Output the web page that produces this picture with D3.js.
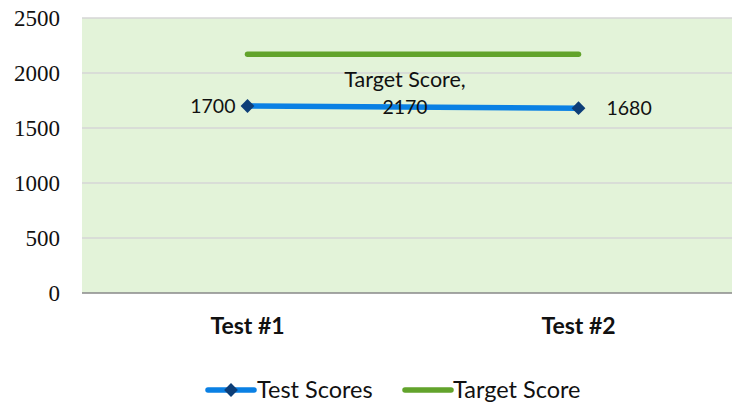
<!DOCTYPE html>
<html>
<head>
<meta charset="utf-8">
<script src="https://cdn.jsdelivr.net/npm/d3@7"></script>
<style>
  html, body { margin: 0; padding: 0; background: #fff; overflow: hidden; }
  svg { display: block; }
</style>
</head>
<body>
<svg id="chart" width="760" height="405"></svg>
<script>
const categories = ["Test #1", "Test #2"];
const testScores = [1700, 1680];
const targetScore = [2170, 2170];
const yTicks = [0, 500, 1000, 1500, 2000, 2500];
const seriesNames = ["Test Scores", "Target Score"];

const svg = d3.select("#chart");
const sans = "Lato, 'Open Sans', sans-serif";
const serif = "'Liberation Serif', serif";

const plot = { left: 82, right: 760, top: 18, bottom: 293 };
const scaleRight = 744;

const x = d3.scaleBand().domain(categories).range([plot.left, scaleRight]).padding(0);
const cx = d => x(d) + x.bandwidth() / 2;
const y = d3.scaleLinear().domain([0, 2500]).range([plot.bottom, plot.top]);

// plot background
svg.append("rect")
  .attr("x", plot.left).attr("y", plot.top)
  .attr("width", plot.right - plot.left).attr("height", plot.bottom - plot.top)
  .attr("fill", "#E3F3D9");

// gridlines
svg.append("g").selectAll("line").data(yTicks.filter(t => t > 0)).join("line")
  .attr("x1", plot.left).attr("x2", plot.right)
  .attr("y1", d => y(d)).attr("y2", d => y(d))
  .attr("stroke", "#D6D6D6").attr("stroke-width", 1.5);

// y axis
const yAxis = d3.axisLeft(y).tickValues(yTicks).tickFormat(d3.format("d")).tickSize(0).tickPadding(22);
const gy = svg.append("g").attr("transform", `translate(${plot.left},0)`).call(yAxis);
gy.select(".domain").remove();
gy.selectAll("text")
  .attr("font-family", serif).attr("font-size", 23).attr("fill", "#111");

// x axis line
svg.append("line")
  .attr("x1", plot.left).attr("x2", plot.right)
  .attr("y1", y(0)).attr("y2", y(0))
  .attr("stroke", "#888").attr("stroke-width", 1.5);

const xAxis = d3.axisBottom(x).tickSize(0).tickPadding(25);
const gx = svg.append("g").attr("transform", `translate(0,${y(0)})`).call(xAxis);
gx.select(".domain").remove();
gx.selectAll("text")
  .attr("font-family", sans).attr("font-size", 23).attr("font-weight", "bold").attr("fill", "#111");

// target line
const line = d3.line().x((d, i) => cx(categories[i])).y(d => y(d));
svg.append("path").datum(targetScore)
  .attr("d", line).attr("fill", "none")
  .attr("stroke", "#62A32B").attr("stroke-width", 5.5).attr("stroke-linecap", "round");

// test scores line
svg.append("path").datum(testScores)
  .attr("d", line).attr("fill", "none")
  .attr("stroke", "#0A80E4").attr("stroke-width", 5.5).attr("stroke-linecap", "round");

svg.append("g").selectAll("path").data(testScores).join("path")
  .attr("transform", (d, i) => `translate(${cx(categories[i])},${y(d)}) rotate(45)`)
  .attr("d", d3.symbol().type(d3.symbolSquare).size(95))
  .attr("fill", "#0D3E78");

// data labels
svg.append("text")
  .attr("x", cx(categories[0]) - 12).attr("y", y(testScores[0]))
  .attr("dy", "0.35em").attr("text-anchor", "end")
  .attr("font-family", sans).attr("font-size", 19.5).attr("fill", "#111")
  .text(testScores[0]);
svg.append("text")
  .attr("x", cx(categories[1]) + 28).attr("y", y(testScores[1]))
  .attr("dy", "0.35em").attr("text-anchor", "start")
  .attr("font-family", sans).attr("font-size", 19.5).attr("fill", "#111")
  .text(testScores[1]);

const midX = (cx(categories[0]) + cx(categories[1])) / 2 - 8;
const tl = svg.append("text")
  .attr("text-anchor", "middle")
  .attr("font-family", sans).attr("font-size", 21.5).attr("fill", "#111");
tl.append("tspan").attr("x", midX).attr("y", y(targetScore[0]) + 33).text(seriesNames[1] + ",");
tl.append("tspan").attr("x", midX).attr("y", y(targetScore[0]) + 60).attr("font-size", 19.5).text(targetScore[0]);

// legend
const ly = 390;
const lg = svg.append("g");
lg.append("line").attr("x1", 208).attr("x2", 254).attr("y1", ly).attr("y2", ly)
  .attr("stroke", "#0A80E4").attr("stroke-width", 5.5).attr("stroke-linecap", "round");
lg.append("path").attr("transform", `translate(231,${ly}) rotate(45)`)
  .attr("d", d3.symbol().type(d3.symbolSquare).size(95)).attr("fill", "#0D3E78");
lg.append("text").attr("x", 257).attr("y", ly).attr("dy", "0.35em")
  .attr("font-family", sans).attr("font-size", 23.5).attr("fill", "#111").text(seriesNames[0]);
lg.append("line").attr("x1", 405).attr("x2", 451).attr("y1", ly).attr("y2", ly)
  .attr("stroke", "#62A32B").attr("stroke-width", 5.5).attr("stroke-linecap", "round");
lg.append("text").attr("x", 453).attr("y", ly).attr("dy", "0.35em")
  .attr("font-family", sans).attr("font-size", 23.5).attr("fill", "#111").text(seriesNames[1]);
</script>
</body>
</html>
